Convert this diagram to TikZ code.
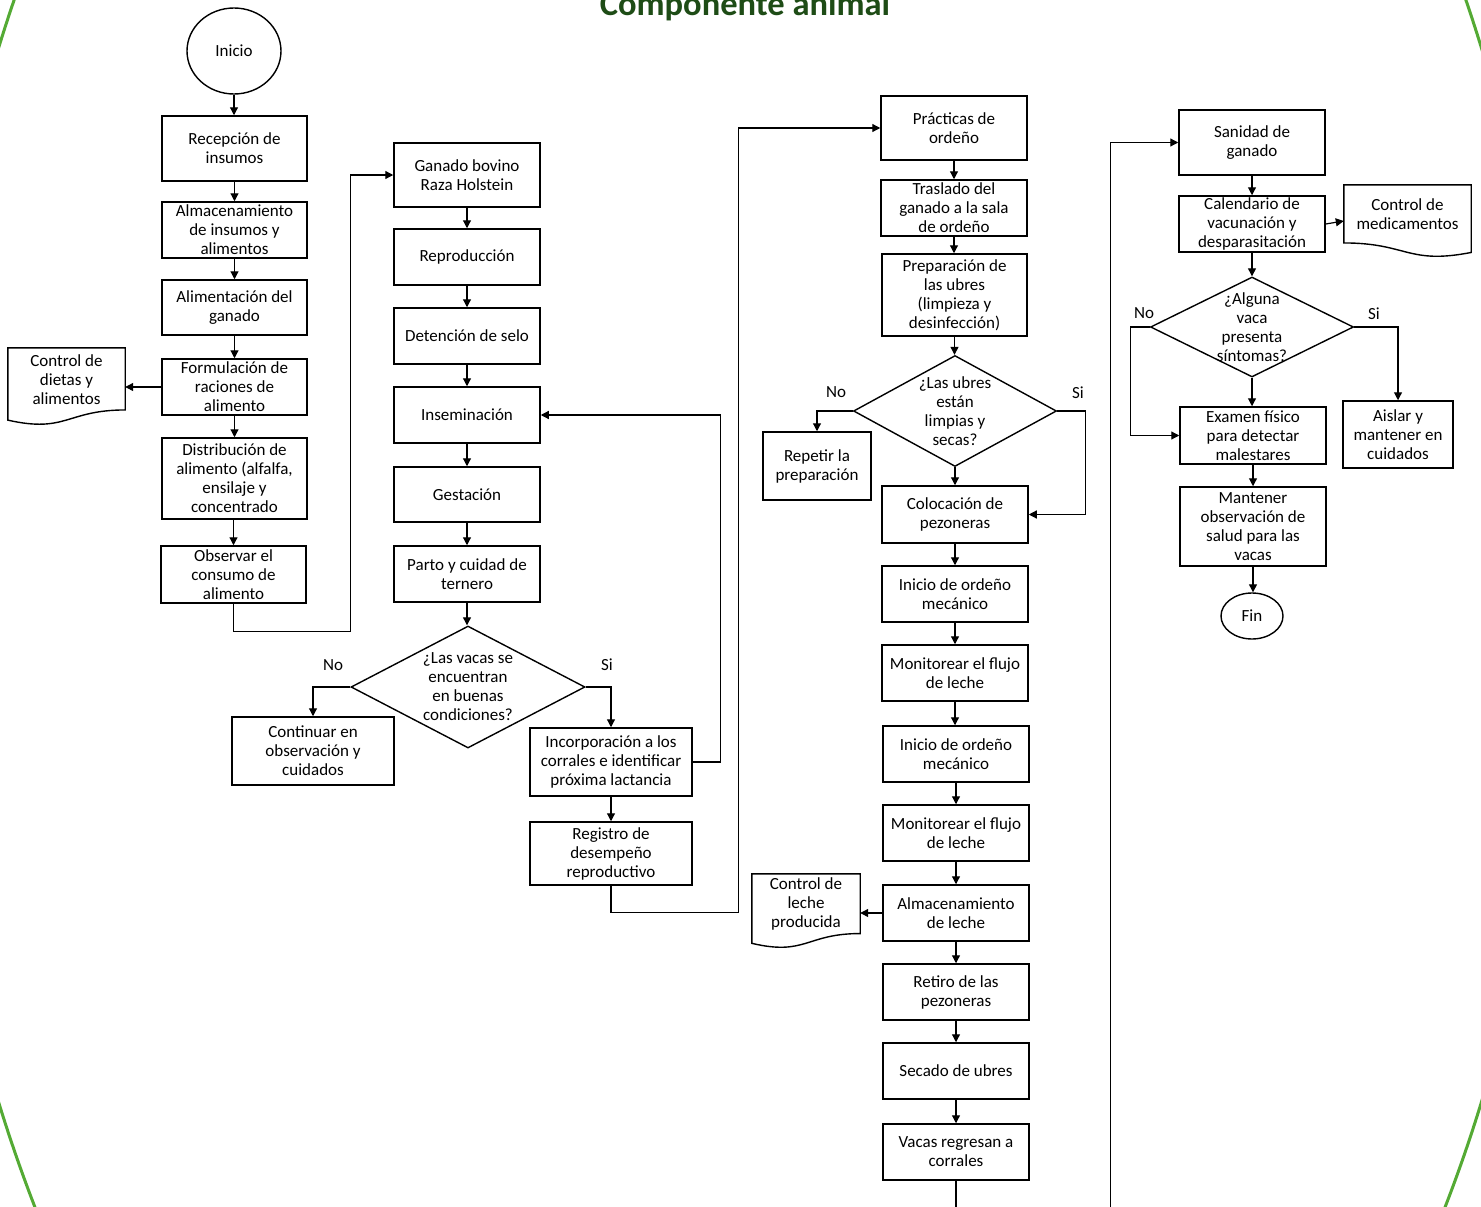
\documentclass[tikz,border=0pt]{standalone}
\usepackage{fontspec}
\setmainfont{Carlito}
\usetikzlibrary{shapes.geometric,arrows.meta,calc}
\definecolor{ringgreen}{RGB}{84,170,52}
\definecolor{titlegreen}{RGB}{30,76,22}
\tikzset{
  txt/.style={font=\fontsize{17}{19}\selectfont, align=center, inner sep=0pt},
  box/.style n args={2}{txt, draw, line width=1.5pt, inner sep=1pt,
    minimum width=#1, minimum height=#2},
  terminal/.style n args={2}{txt, draw, ellipse, line width=1.4pt, inner sep=0pt,
    minimum width=#1, minimum height=#2},
  decision/.style n args={2}{draw, diamond, line width=1.4pt, inner sep=0pt,
    minimum width=#1, minimum height=#2},
  docnode/.style n args={2}{inner sep=0pt, minimum width=#1, minimum height=#2},
  outline/.style={line width=1.4pt},
  conn/.style={line width=1.2pt, -{Triangle[length=8pt,width=8pt]}},
  answer/.style={font=\fontsize{17}{19}\selectfont, inner sep=0pt}
}
% document symbol with a wavy lower edge (#1 node, #2 height)
\newcommand\docoutline[2]{%
  \draw[outline] (#1.north west) -- (#1.north east)
    -- ([yshift=0.198*#2]#1.south east)
    .. controls ([yshift=0.198*#2]#1.south) and ([yshift=-0.107*#2]#1.south)
    .. ([yshift=0.066*#2]#1.south west) -- cycle;}
% same symbol, wave mirrored left to right
\newcommand\docoutlineflip[2]{%
  \draw[outline] (#1.north west) -- (#1.north east)
    -- ([yshift=0.066*#2]#1.south east)
    .. controls ([yshift=-0.107*#2]#1.south) and ([yshift=0.198*#2]#1.south)
    .. ([yshift=0.198*#2]#1.south west) -- cycle;}
\begin{document}
\begin{tikzpicture}[x=1pt,y=-1pt]
\useasboundingbox (0,0) rectangle (1481,1207);
\clip (0,0) rectangle (1481,1207);
\fill[white] (0,0) rectangle (1481,1207);

% frame and heading
\draw[ringgreen, line width=3pt] (740,575) ellipse [x radius=818, y radius=1246];
\node[anchor=base, text=titlegreen, font=\fontsize{34.5}{36}\selectfont\bfseries, inner sep=0pt]
  (title) at (745,16) {Componente animal};

% ---------- feeding ----------
\node[terminal={94}{86}] (inicio) at (234,51) {Inicio};
\node[box={145}{65}] (recep) at (234.5,148.5) {Recepción de\\insumos};
\node[box={145}{56}] (almac1) at (234.5,230) {Almacenamiento\\de insumos y\\alimentos};
\node[box={145}{55}] (alim) at (234.5,307.5) {Alimentación del\\ganado};
\node[box={145}{56}] (formul) at (234.5,387) {Formulación de\\raciones de\\alimento};
\node[box={145}{81}] (distrib) at (234.5,478.5) {Distribución de\\alimento (alfalfa,\\ensilaje y\\concentrado};
\node[box={145}{57}] (observ) at (233.5,574.5) {Observar el\\consumo de\\alimento};
\node[docnode={117}{77}, label={[txt, yshift=7pt]center:{Control de\\dietas y\\alimentos}}]
  (dietas) at (66.5,386.5) {};
\docoutline{dietas}{77}

\draw[conn] (inicio.south) -- (inicio.south |- recep.north);
\draw[conn] (recep.south) -- (recep.south |- almac1.north);
\draw[conn] (almac1.south) -- (almac1.south |- alim.north);
\draw[conn] (alim.south) -- (alim.south |- formul.north);
\draw[conn] (formul.south) -- (formul.south |- distrib.north);
\draw[conn] (distrib.south) -- (distrib.south -| observ.north) -- (observ.north);
\draw[conn] (formul.west) -- (formul.west -| dietas.east);

% ---------- reproduction ----------
\node[box={146}{64}] (ganado) at (467,175) {Ganado bovino\\Raza Holstein};
\node[box={146}{56}] (reprod) at (467,257) {Reproducción};
\node[box={146}{56}] (detenc) at (467,336) {Detención de selo};
\node[box={146}{56}] (insem) at (467,415) {Inseminación};
\node[box={146}{55}] (gest) at (467,494.5) {Gestación};
\node[box={146}{56}] (parto) at (467,574) {Parto y cuidad de\\ternero};
\node[decision={234}{122}, label={[txt]center:{¿Las vacas se\\encuentran\\en buenas\\condiciones?}}]
  (cond) at (468,687) {};
\node[answer] (condno) at (333,665) {No};
\node[answer] (condsi) at (607,665) {Si};
\node[box={162}{68}] (cont) at (313,751) {Continuar en\\observación y\\cuidados};
\node[box={162}{68}] (incorp) at (611,762) {Incorporación a los\\corrales e identificar\\próxima lactancia};
\node[box={162}{63}] (regis) at (611,853.5) {Registro de\\desempeño\\reproductivo};

\draw[conn] (observ.south) -- ++(0,28) -| ([xshift=-43pt]ganado.west) -- (ganado.west);
\draw[conn] (ganado.south) -- (reprod.north);
\draw[conn] (reprod.south) -- (detenc.north);
\draw[conn] (detenc.south) -- (insem.north);
\draw[conn] (insem.south) -- (gest.north);
\draw[conn] (gest.south) -- (parto.north);
\draw[conn] (parto.south) -- (parto.south |- cond.north);
\draw[conn] (cond.west) -| (cont.north);
\draw[conn] (cond.east) -| (incorp.north);
\draw[conn] (incorp.east) -- ++(28,0) |- (insem.east);
\draw[conn] (incorp.south) -- (regis.north);

% ---------- milking ----------
\node[box={146}{64}] (pract) at (954,128) {Prácticas de\\ordeño};
\node[box={146}{56}] (trasl) at (954,208) {Traslado del\\ganado a la sala\\de ordeño};
\node[box={145}{82}] (prep) at (954.5,295) {Preparación de\\las ubres\\(limpieza y\\desinfección)};
\node[decision={203}{111}, label={[txt]center:{¿Las ubres\\están\\limpias y\\secas?}}]
  (limp) at (955,411) {};
\node[answer] (limpno) at (836,392) {No};
\node[answer] (limpsi) at (1078,393) {Si};
\node[box={108}{68}] (repet) at (817,466) {Repetir la\\preparación};
\node[box={146}{57}] (coloc) at (955,514.5) {Colocación de\\pezoneras};
\node[box={146}{56}] (inic1) at (955,594) {Inicio de ordeño\\mecánico};
\node[box={146}{56}] (monit1) at (955,673) {Monitorear el flujo\\de leche};
\node[box={146}{56}] (inic2) at (956,754) {Inicio de ordeño\\mecánico};
\node[box={146}{56}] (monit2) at (956,833) {Monitorear el flujo\\de leche};
\node[box={146}{56}] (almac2) at (956,913) {Almacenamiento\\de leche};
\node[docnode={108}{74}, label={[txt, yshift=7pt]center:{Control de\\leche\\producida}}]
  (leche) at (806,911) {};
\docoutline{leche}{74}
\node[box={146}{56}] (retiro) at (956,992) {Retiro de las\\pezoneras};
\node[box={146}{56}] (secado) at (956,1071) {Secado de ubres};
\node[box={146}{56}] (vacas) at (956,1152) {Vacas regresan a\\corrales};

\draw[conn] (regis.south) -- ++(0,27) -| ([xshift=-142pt]pract.west) -- (pract.west);
\draw[conn] (pract.south) -- (trasl.north);
\draw[conn] (trasl.south) -- (trasl.south |- prep.north);
\draw[conn] (prep.south) -- (prep.south |- limp.north);
\draw[conn] (limp.west) -| (repet.north);
\draw[conn] (limp.east) -- ++(28,0) |- (coloc.east);
\draw[conn] (limp.south) -- (coloc.north);
\draw[conn] (coloc.south) -- (inic1.north);
\draw[conn] (inic1.south) -- (monit1.north);
\draw[conn] (monit1.south) -- (monit1.south |- inic2.north);
\draw[conn] (inic2.south) -- (monit2.north);
\draw[conn] (monit2.south) -- (almac2.north);
\draw[conn] (almac2.west) -- (almac2.west -| leche.east);
\draw[conn] (almac2.south) -- (retiro.north);
\draw[conn] (retiro.south) -- (secado.north);
\draw[conn] (secado.south) -- (vacas.north);

% ---------- herd health ----------
\node[box={146}{65}] (sanid) at (1252,142.5) {Sanidad de\\ganado};
\node[box={146}{56}] (calend) at (1252,224) {Calendario de\\vacunación y\\desparasitación};
\node[docnode={127}{72}, label={[txt, yshift=6.5pt]center:{Control de\\medicamentos}}]
  (medic) at (1407.5,221) {};
\docoutlineflip{medic}{72}
\node[decision={203}{100}, label={[txt]center:{¿Alguna\\vaca\\presenta\\síntomas?}}]
  (sint) at (1252,327) {};
\node[answer] (sintno) at (1144,313) {No};
\node[answer] (sintsi) at (1374,314) {Si};
\node[box={146}{57}] (exam) at (1253,435.5) {Examen físico\\para detectar\\malestares};
\node[box={110}{67}] (aislar) at (1398,434.5) {Aislar y\\mantener en\\cuidados};
\node[box={146}{79}] (mant) at (1253,526.5) {Mantener\\observación de\\salud para las\\vacas};
\node[terminal={62}{46}] (fin) at (1252,616) {Fin};

\draw[conn] (vacas.south) -- ++(0,60) -| ([xshift=-68pt]sanid.west) -- (sanid.west);
\draw[conn] (sanid.south) -- (calend.north);
\draw[conn] (calend.east) -- (medic.west);
\draw[conn] (calend.south) -- (sint.north);
\draw[conn] (sint.west) -- ++(-19,0) |- (exam.west);
\draw[conn] (sint.east) -| (aislar.north);
\draw[conn] (sint.south) -- (sint.south |- exam.north);
\draw[conn] (exam.south) -- (mant.north);
\draw[conn] (mant.south) -- (mant.south |- fin.north);
\end{tikzpicture}
\end{document}
